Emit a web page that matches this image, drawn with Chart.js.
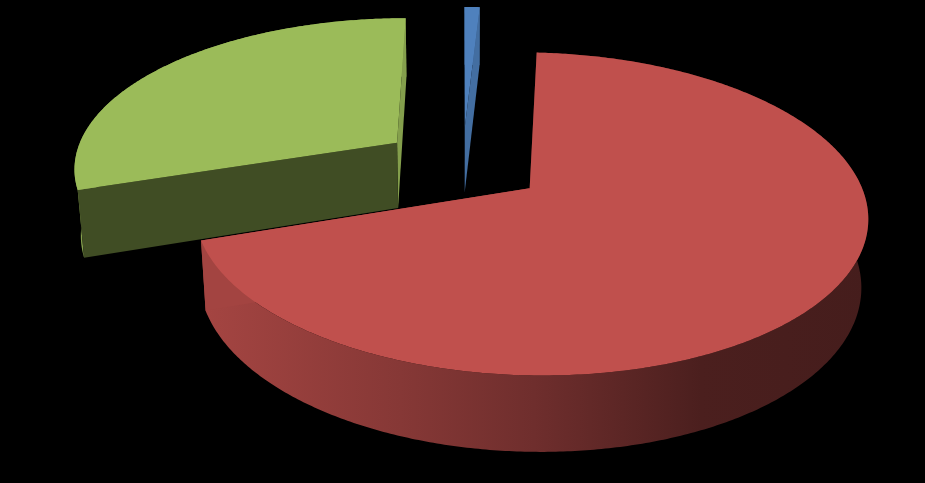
<!DOCTYPE html>
<html>
<head>
<meta charset="utf-8">
<style>
  html, body { margin: 0; padding: 0; background: #000; overflow: hidden; }
  canvas { display: block; }
</style>
<script src="https://cdn.jsdelivr.net/npm/chart.js@4/dist/chart.umd.min.js"></script>
</head>
<body>
<canvas id="myChart" width="925" height="483"></canvas>
<script>
// values (percent of the pie)
const categories = ["Series 1", "Series 2", "Series 3"];
const shares = [0.9, 69, 30.1];
const sliceColors = ["#4F81BD", "#C0504D", "#9BBB59"];

// camera for the tilted pie
const view = { cx: 462.5, cy: 164.5, r: 324.5, ry: 150, persp: 0.155, height: 67.5, sink: 0.0165 };
const shadeStartWall = 0.41;
const shadeEndWall = 0.85;

function project(x, y, z) {
  const w = 1 / (1 - view.persp * y + view.sink * z);
  return [view.cx + x * view.r * w, view.cy + (y * view.ry + z * view.height) * w];
}

function shade(hex, k) {
  const n = parseInt(hex.slice(1), 16);
  return "rgb(" + Math.round((n >> 16) * k) + "," + Math.round(((n >> 8) & 255) * k) + "," + Math.round((n & 255) * k) + ")";
}

function tracePoly(ctx, pts) {
  ctx.beginPath();
  pts.forEach((p, i) => i ? ctx.lineTo(p[0], p[1]) : ctx.moveTo(p[0], p[1]));
  ctx.closePath();
}

function drawSlice(ctx, arc) {
  const color = arc.options.backgroundColor;
  const mid = (arc.startAngle + arc.endAngle) / 2;
  const e = arc.options.offset / arc.outerRadius;
  const ox = Math.cos(mid) * e, oy = Math.sin(mid) * e;

  // rim points along the arc, in unit disc coordinates
  const rim = [];
  const steps = Math.max(2, Math.ceil((arc.endAngle - arc.startAngle) / 0.01));
  for (let i = 0; i <= steps; i++) {
    const a = arc.startAngle + (arc.endAngle - arc.startAngle) * i / steps;
    rim.push([ox + Math.cos(a), oy + Math.sin(a)]);
  }
  const first = rim[0], last = rim[rim.length - 1];
  const wall = (p, q) => [project(p[0], p[1], 0), project(q[0], q[1], 0), project(q[0], q[1], 1), project(p[0], p[1], 1)];

  // outer wall, lit from the left
  const g = ctx.createLinearGradient(200, 0, 868, 0);
  g.addColorStop(0, shade(color, 0.86));
  g.addColorStop(0.3, shade(color, 0.7));
  g.addColorStop(0.5, shade(color, 0.58));
  g.addColorStop(0.75, shade(color, 0.39));
  g.addColorStop(1, shade(color, 0.36));
  ctx.fillStyle = g;
  const outer = rim.map(p => project(p[0], p[1], 0)).concat(rim.slice().reverse().map(p => project(p[0], p[1], 1)));
  tracePoly(ctx, outer);
  ctx.fill();

  // flat side walls
  ctx.fillStyle = shade(color, shadeEndWall);
  tracePoly(ctx, wall([ox, oy], last));
  ctx.fill();
  ctx.fillStyle = shade(color, shadeStartWall);
  tracePoly(ctx, wall([ox, oy], first));
  ctx.fill();

  // top face
  ctx.fillStyle = color;
  tracePoly(ctx, [project(ox, oy, 0)].concat(rim.map(p => project(p[0], p[1], 0))));
  ctx.fill();
}

const pie3d = {
  id: "pie3d",
  beforeDatasetDraw(chart, args) {
    const ctx = chart.ctx;
    const arcs = args.meta.data.slice();
    // far slices first
    arcs.sort((a, b) => Math.sin((a.startAngle + a.endAngle) / 2) - Math.sin((b.startAngle + b.endAngle) / 2));
    arcs.forEach(arc => drawSlice(ctx, arc));
    return false;
  }
};

new Chart(document.querySelector("#myChart").getContext("2d"), {
  type: "pie",
  data: {
    labels: categories,
    datasets: [{
      data: shares,
      backgroundColor: sliceColors,
      borderWidth: 0,
      offset: 54.5
    }]
  },
  options: {
    responsive: false,
    animation: false,
    rotation: 0,
    layout: { padding: 0 },
    plugins: { legend: { display: false }, tooltip: { enabled: false } }
  },
  plugins: [pie3d]
});
</script>
</body>
</html>
